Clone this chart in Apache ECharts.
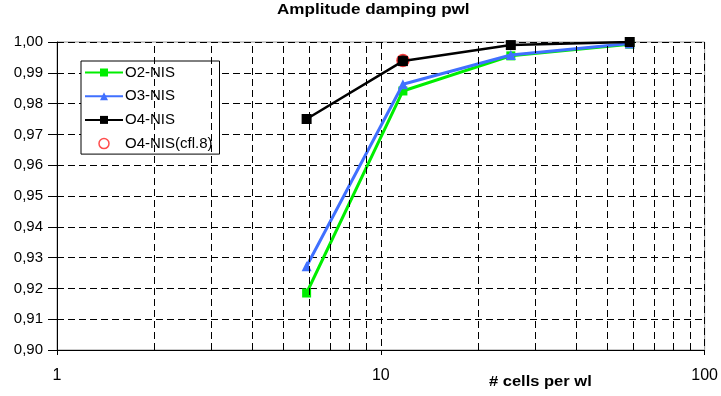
<!DOCTYPE html>
<html>
<head>
	<meta charset="utf-8">
	<title>Amplitude damping pwl</title>
	<script src="https://cdn.jsdelivr.net/npm/echarts@6/dist/echarts.min.js"></script>
	<style type="text/css">
		*{margin:0;padding:0;}
		body{background:#fff;}
		#main{width:721px;height:396px;}
	</style>
</head>
<body>
	<div id="main"></div>
	<script type="text/javascript">
	// cells per wavelength (x) and damping values
	var cellsPerWl = [5.9, 11.7, 25.2, 58.7];
	var o2Nis = [0.9185, 0.9841, 0.9955, 0.9993];
	var o3Nis = [0.9272, 0.9863, 0.9958, 0.9995];
	var o4Nis = [0.9750, 0.9938, 0.9990, 1.0000];
	var o4Cfl8 = [[11.7, 0.9940]];
	// extra vertical grid lines of the log axis
	var minorGrid = [2, 3, 4, 5, 6, 7, 8, 9, 20, 30, 40, 50, 60, 70, 80, 90];

	function pairs(ys) {
		return cellsPerWl.map(function (x, i) { return [x, ys[i]]; });
	}

	var dash = [7, 4];
	var fontName = 'Liberation Sans, Arial, sans-serif';

	var myChart = echarts.init(document.getElementById('main'));
	var option = {
		animation: false,
		backgroundColor: '#fff',
		grid: {
			left: 57, right: 13, top: 42, bottom: 46,
			show: true, borderColor: '#999', borderWidth: 1, backgroundColor: '#fff'
		},
		legend: {
			orient: 'vertical',
			left: 81, top: 61,
			padding: [4, 7, 3, 3],
			itemWidth: 38, itemHeight: 10, itemGap: 8.7,
			borderColor: '#000', borderWidth: 1, backgroundColor: '#fff',
			textStyle: {fontFamily: fontName, fontSize: 15, color: '#000', padding: [0, 0, 0, -3]},
			data: [
				'O2-NIS', 'O3-NIS', 'O4-NIS',
				{name: 'O4-NIS(cfl.8)', icon: 'circle', itemStyle: {color: '#fff', borderColor: '#ff2020', borderWidth: 1.5}}
			]
		},
		xAxis: {
			type: 'log', logBase: 10, min: 1, max: 100,
			axisLine: {lineStyle: {color: '#000', width: 1}},
			axisTick: {show: true, length: 5, lineStyle: {color: '#000'}},
			axisLabel: {margin: 18, fontFamily: fontName, fontSize: 16, color: '#000'},
			splitLine: {show: true, lineStyle: {color: '#000', type: dash}}
		},
		yAxis: {
			type: 'value', min: 0.90, max: 1.00, interval: 0.01,
			axisLine: {show: true, lineStyle: {color: '#000', width: 1}},
			axisTick: {show: true, length: 9, lineStyle: {color: '#000'}},
			axisLabel: {
				margin: 14, fontFamily: fontName, fontSize: 15, color: '#000',
				formatter: function (v) { return v.toFixed(2).replace('.', ','); }
			},
			splitLine: {show: true, lineStyle: {color: '#000', type: dash}}
		},
		graphic: [
			{
				type: 'text', x: 277, y: 3, scaleX: 1.22,
				style: {text: 'Amplitude damping pwl', fontFamily: fontName, fontSize: 14, fontWeight: 'bold', fill: '#000'}
			},
			{
				type: 'text', x: 489, y: 374, scaleX: 1.1,
				style: {text: '# cells per wl', fontFamily: fontName, fontSize: 15, fontWeight: 'bold', fill: '#000'}
			}
		],
		series: [
			{
				name: 'minor', type: 'line', data: [], silent: true,
				markLine: {
					silent: true, symbol: 'none', label: {show: false},
					lineStyle: {color: '#000', type: dash, width: 1},
					data: minorGrid.map(function (v) { return {xAxis: v}; })
				}
			},
			{
				name: 'O2-NIS', type: 'line', data: pairs(o2Nis), z: 3,
				symbol: 'rect', symbolSize: 9,
				lineStyle: {color: '#00ee00', width: 3},
				itemStyle: {color: '#00ee00'}
			},
			{
				name: 'O3-NIS', type: 'line', data: pairs(o3Nis), z: 4,
				symbol: 'triangle', symbolSize: 10,
				lineStyle: {color: '#4070ff', width: 3},
				itemStyle: {color: '#4070ff'}
			},
			{
				name: 'O4-NIS(cfl.8)', type: 'scatter', data: o4Cfl8, z: 5,
				symbol: 'circle', symbolSize: 12,
				itemStyle: {color: '#000', borderColor: '#ff2020', borderWidth: 1.5}
			},
			{
				name: 'O4-NIS', type: 'line', data: pairs(o4Nis), z: 6,
				symbol: 'rect', symbolSize: 10,
				lineStyle: {color: '#000', width: 2.5},
				itemStyle: {color: '#000'}
			}
		]
	};
	myChart.setOption(option);
	</script>
</body>
</html>
